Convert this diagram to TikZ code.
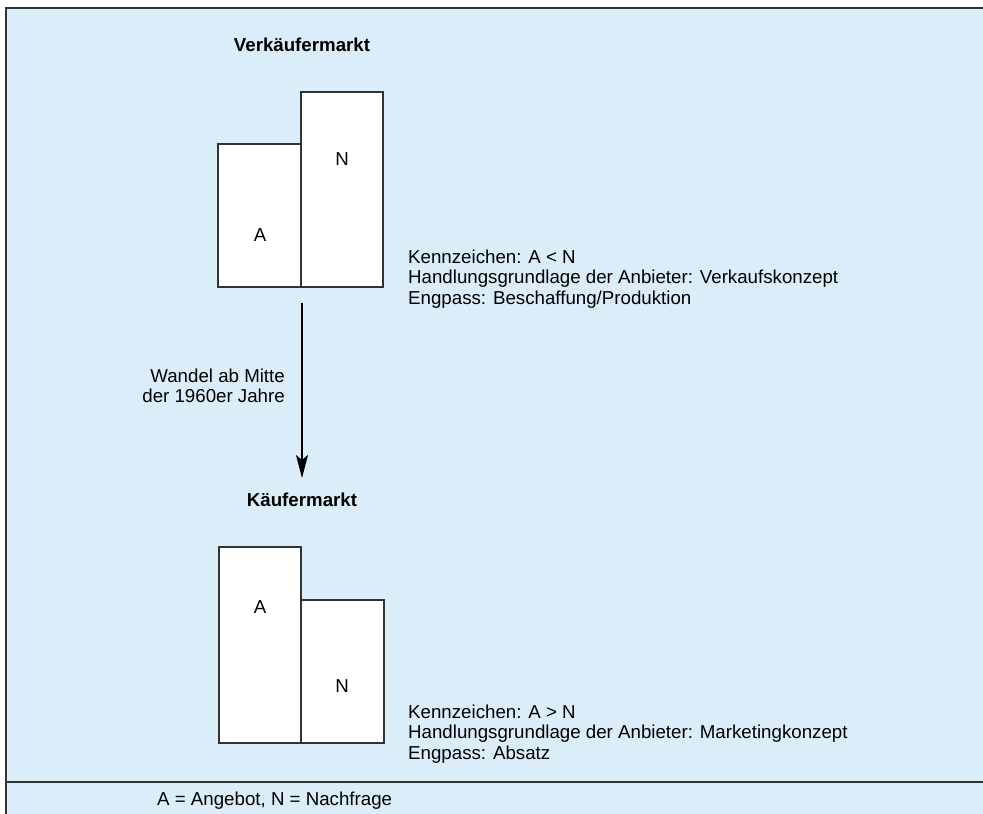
\documentclass[tikz,border=0pt]{standalone}
\usepackage{fontspec}
\setmainfont{Liberation Sans}
\usetikzlibrary{arrows.meta}
\definecolor{bgblue}{HTML}{DAEDF8}
\definecolor{frameline}{HTML}{333333}
\begin{document}
\begin{tikzpicture}[x=1pt,y=-1pt,
  bar/.style={draw=frameline,line width=1.3pt,fill=white,inner sep=0pt,outer sep=0pt},
  txt/.style={anchor=base west,inner sep=0pt,font=\fontsize{18.7}{20.5}\selectfont},
  lbl/.style={anchor=base,inner sep=0pt,font=\fontsize{18.7}{20.5}\selectfont},
  ttl/.style={anchor=base,inner sep=0pt,font=\fontsize{18.7}{20.5}\selectfont\bfseries}]
\useasboundingbox (0,0) rectangle (983,814);
\clip (0,0) rectangle (983,814);
\fill[white] (0,0) rectangle (983,814);
% frame
\draw[draw=frameline,line width=1.3pt,fill=bgblue] (6,8) rectangle (1020,840);
\coordinate (sepL) at (6,782);
\coordinate (sepR) at (1020,782);
\draw[draw=frameline,line width=1.3pt] (sepL) -- (sepR);
% Verkaeufermarkt
\node[ttl] (t1) at (302,51) {Verkäufermarkt};
\node[bar,minimum width=83pt,minimum height=143pt] (A1) at (259.5,215.5) {};
\node[bar,minimum width=82pt,minimum height=195pt] (N1) at (342,189.5) {};
\node[lbl] (A1l) at (260,241) {A};
\node[lbl] (N1l) at (342,165) {N};
\node[txt] (k1) at (408,263) {Kennzeichen: A < N};
\node[txt] (h1) at (408,283.5) {Handlungsgrundlage der Anbieter: Verkaufskonzept};
\node[txt] (e1) at (408,304) {Engpass: Beschaffung/Produktion};
% arrow
\coordinate (arS) at (302,303);
\coordinate (arE) at (302,478);
\draw[line width=1.2pt,-{Stealth[length=23pt,width=12pt,inset=5pt]}] (arS) -- (arE);
\node[anchor=base east,inner sep=0pt,font=\fontsize{18.7}{20.5}\selectfont] (w1) at (285,382) {Wandel ab Mitte};
\node[anchor=base east,inner sep=0pt,font=\fontsize{18.7}{20.5}\selectfont] (w2) at (285,402.5) {der 1960er Jahre};
% Kaeufermarkt
\node[ttl] (t2) at (302,506) {Käufermarkt};
\node[bar,minimum width=82pt,minimum height=196pt] (A2) at (260,645) {};
\node[bar,minimum width=83pt,minimum height=143pt] (N2) at (342.5,671.5) {};
\node[lbl] (A2l) at (260,613) {A};
\node[lbl] (N2l) at (342,692) {N};
\node[txt] (k2) at (408,718) {Kennzeichen: A > N};
\node[txt] (h2) at (408,738.5) {Handlungsgrundlage der Anbieter: Marketingkonzept};
\node[txt] (e2) at (408,759) {Engpass: Absatz};
% footer
\node[txt] (foot) at (157,805) {A = Angebot, N = Nachfrage};
\end{tikzpicture}
\end{document}
